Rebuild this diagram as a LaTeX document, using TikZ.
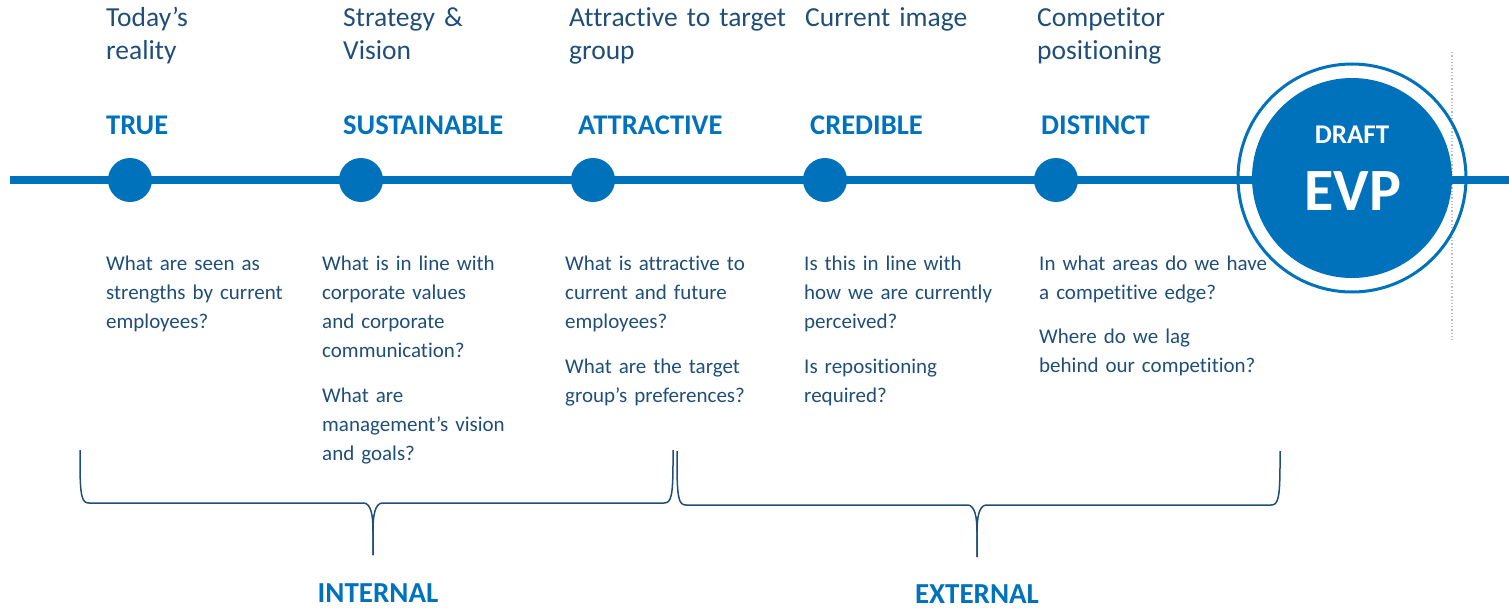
\documentclass[tikz,border=0pt]{standalone}
\usepackage{fontspec}
\setmainfont{Carlito}[Ligatures=NoCommon]
\definecolor{txtdark}{RGB}{31,78,121}
\definecolor{evpblue}{RGB}{0,114,188}
\definecolor{braceblue}{RGB}{31,78,121}
\definecolor{dotgray}{RGB}{190,190,190}
\newcommand\evpbrace[6]{% x1 x2 ytop yh xm ytip
  \draw[bracestyle] (#1,#3) -- (#1,#3+12) .. controls (#1,#4-6) and (#1+2,#4) .. (#1+9,#4)
    -- (#5-9,#4) .. controls (#5-2,#4+1) and (#5,#4+12) .. (#5,#4+28) -- (#5,#6);
  \draw[bracestyle] (#5,#6) -- (#5,#4+28) .. controls (#5,#4+12) and (#5+2,#4+1) .. (#5+9,#4)
    -- (#2-9,#4) .. controls (#2-2,#4) and (#2,#4-6) .. (#2,#3+12) -- (#2,#3);
}
\tikzset{
  mainline/.style={draw=evpblue, line width=8pt},
  dotnode/.style={circle, fill=evpblue, minimum size=44pt, inner sep=0pt},
  evpcore/.style={circle, fill=evpblue, minimum size=200pt, inner sep=0pt},
  evpring/.style={circle, draw=evpblue, line width=3pt, minimum size=228pt, inner sep=0pt},
  headtxt/.style={anchor=base west, inner sep=0pt, text=txtdark, text width=260pt, align=left,
    font=\fontsize{27.5}{33}\selectfont},
  labeltxt/.style={anchor=base west, inner sep=0pt, text=evpblue,
    font=\bfseries\fontsize{28.5}{33}\selectfont},
  qtxt/.style={anchor=base west, inner sep=0pt, text=txtdark, text width=260pt, align=left,
    font=\fontsize{21}{29}\selectfont},
  groupt/.style={anchor=base, inner sep=0pt, text=evpblue,
    font=\bfseries\fontsize{29}{33}\selectfont},
  bracestyle/.style={draw=braceblue, line width=1.5pt},
}
\begin{document}
\begin{tikzpicture}[x=1pt,y=-1pt]
\useasboundingbox (0,0) rectangle (1509,610);
% dotted separator
\coordinate (s1) at (1452,52);
\coordinate (s2) at (1452,340);
\draw[dotgray, line width=1.3pt, dotted] (s1) -- (s2);
% main line
\coordinate (ls) at (10,180);
\coordinate (le) at (1509,180);
\draw[mainline] (ls) -- (le);
% dots
\node[dotnode] (d1) at (130,180) {};
\node[dotnode] (d2) at (361,180) {};
\node[dotnode] (d3) at (593,180) {};
\node[dotnode] (d4) at (825,180) {};
\node[dotnode] (d5) at (1056,180) {};
% EVP
\node[evpring] (ring) at (1352,178) {};
\node[evpcore] (evp) at (1352,178) {};
\node[anchor=base, text=white, inner sep=0pt, font=\bfseries\fontsize{27}{30}\selectfont] (draft) at (1352,143) {DRAFT};
\node[anchor=base, text=white, inner sep=0pt, font=\bfseries\fontsize{60}{66}\selectfont] (evpt) at (1353,210) {EVP};
% headings
\node[headtxt] (h1) at (106,27) {Today’s\\reality};
\node[headtxt] (h2) at (343,27) {Strategy \&\\Vision};
\node[headtxt] (h3) at (569,27) {Attractive to target\\group};
\node[headtxt] (h4) at (805,27) {Current image};
\node[headtxt] (h5) at (1037,27) {Competitor\\positioning};
% labels
\node[labeltxt] (l1) at (106,134) {TRUE};
\node[labeltxt] (l2) at (343,134) {SUSTAINABLE};
\node[labeltxt] (l3) at (578,134) {ATTRACTIVE};
\node[labeltxt] (l4) at (810,134) {CREDIBLE};
\node[labeltxt] (l5) at (1041,134) {DISTINCT};
% questions
\node[qtxt] (q1) at (106,270) {What are seen as\\strengths by current\\employees?};
\node[qtxt] (q2) at (322,270) {What is in line with\\corporate values\\and corporate\\communication?\\[16pt]What are\\management’s vision\\and goals?};
\node[qtxt] (q3) at (565,270) {What is attractive to\\current and future\\employees?\\[16pt]What are the target\\group’s preferences?};
\node[qtxt] (q4) at (804,270) {Is this in line with\\how we are currently\\perceived?\\[16pt]Is repositioning\\required?};
\node[qtxt] (q5) at (1039,270) {In what areas do we have\\a competitive edge?\\[15pt]Where do we lag\\behind our competition?};
% braces
\evpbrace{80}{673}{450}{503}{373}{555}
\evpbrace{677}{1280}{451}{505}{977}{557}
\node[groupt] (int) at (378,602) {INTERNAL};
\node[groupt] (ext) at (977,603) {EXTERNAL};
\end{tikzpicture}
\end{document}
